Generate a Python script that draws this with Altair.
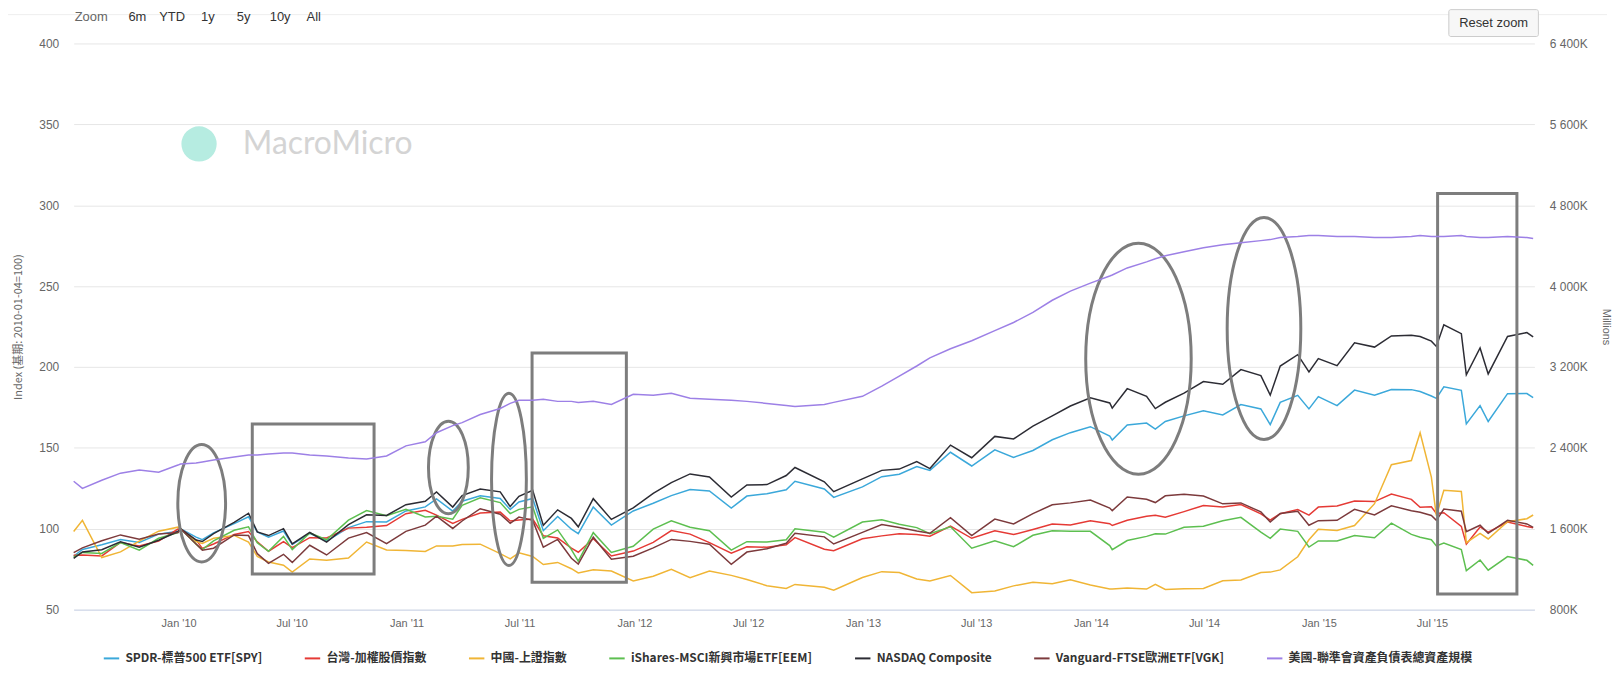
import altair as alt
import pandas as pd

# ---------------- data ----------------
dates = [
    "2009-07-17", "2009-07-31", "2009-08-31", "2009-09-30", "2009-10-30", "2009-11-30", "2009-12-31",
    "2010-01-04", "2010-01-29", "2010-02-08", "2010-02-26", "2010-03-31", "2010-04-23", "2010-05-07", "2010-05-25",
    "2010-06-18", "2010-07-02", "2010-07-30", "2010-08-26", "2010-09-30", "2010-10-29", "2010-11-30", "2010-12-31",
    "2011-01-31", "2011-02-18", "2011-03-16", "2011-03-31", "2011-04-29", "2011-05-31", "2011-06-16", "2011-06-30",
    "2011-07-22", "2011-08-08", "2011-08-31", "2011-09-22", "2011-10-03", "2011-10-27", "2011-11-25", "2011-12-30",
    "2012-01-31", "2012-02-29", "2012-03-30", "2012-04-30", "2012-06-04", "2012-06-29", "2012-07-31", "2012-08-31",
    "2012-09-14", "2012-10-31", "2012-11-15", "2012-12-31",
    "2013-01-31", "2013-02-28", "2013-03-28", "2013-04-18", "2013-05-21", "2013-06-24", "2013-07-31", "2013-08-30",
    "2013-09-30", "2013-10-31", "2013-11-29", "2013-12-31",
    "2014-01-31", "2014-02-04", "2014-02-28", "2014-03-31", "2014-04-14", "2014-04-30", "2014-05-30", "2014-06-30",
    "2014-07-31", "2014-08-29", "2014-09-30", "2014-10-15", "2014-10-31", "2014-11-28", "2014-12-16", "2014-12-31",
    "2015-01-30", "2015-02-27", "2015-03-31", "2015-04-27", "2015-05-29", "2015-06-12", "2015-06-30", "2015-07-08",
    "2015-07-20", "2015-08-17", "2015-08-25", "2015-09-16", "2015-09-29", "2015-10-30", "2015-11-30", "2015-12-10",
]

spy = [
    83.0, 87.2, 90.1, 93.3, 91.5, 96.7, 98.4,
    100.0, 94.8, 93.3, 97.5, 103.2, 107.4, 98.1, 94.8, 98.6, 90.3, 97.2, 92.4, 100.7, 104.4, 104.2, 111.0,
    113.5, 118.5, 110.9, 117.0, 120.4, 118.7, 111.9, 116.6, 118.7, 98.8, 107.6, 99.7, 97.0, 113.4, 102.3, 111.0,
    115.8, 120.5, 124.3, 123.4, 112.8, 120.2, 121.7, 124.1, 129.4, 124.6, 119.4, 125.9,
    132.2, 133.7, 138.5, 136.1, 147.3, 138.8, 148.8, 144.1, 148.4, 155.0, 159.4, 163.1,
    157.3, 154.9, 164.1, 165.3, 161.6, 166.3, 169.8, 173.0, 170.4, 176.8, 174.1, 164.4, 178.1, 182.5, 174.1, 181.7,
    176.1, 185.7, 182.5, 186.1, 186.0, 184.8, 182.1, 180.6, 187.8, 185.6, 164.8, 176.1, 166.3, 183.5, 183.6, 181.1,
]

taiex = [
    83.7, 83.8, 83.2, 91.5, 89.4, 92.4, 99.8,
    100.0, 93.1, 87.9, 90.6, 96.5, 98.3, 91.9, 86.1, 92.1, 88.3, 94.5, 94.3, 100.4, 101.0, 102.0, 109.3,
    111.4, 108.4, 103.3, 105.8, 109.7, 110.3, 104.8, 105.4, 106.0, 95.7, 94.3, 88.0, 85.5, 93.8, 83.2, 86.2,
    91.6, 98.9, 96.7, 91.4, 84.9, 88.9, 88.6, 90.1, 94.5, 87.3, 86.4, 93.8,
    95.6, 96.9, 96.5, 95.4, 101.7, 94.1, 98.8, 96.4, 99.6, 103.0, 102.4, 104.9,
    103.1, 102.0, 105.3, 107.8, 108.4, 107.1, 110.6, 114.4, 113.5, 115.0, 109.2, 105.4, 109.3, 111.9, 108.4, 113.4,
    114.1, 117.2, 116.8, 121.5, 118.2, 113.3, 113.6, 109.4, 109.9, 101.5, 90.5, 101.1, 97.9, 104.2, 101.4, 100.6,
]

sse = [
    98.3, 105.2, 82.2, 85.7, 92.4, 98.5, 101.0,
    100.0, 92.1, 90.9, 94.1, 95.9, 91.8, 82.9, 79.5, 77.5, 73.2, 81.3, 80.5, 81.9, 91.8, 86.9, 86.6,
    86.0, 89.4, 89.3, 90.3, 90.5, 84.6, 81.4, 85.1, 82.9, 77.9, 79.2, 75.3, 72.7, 74.6, 73.9, 67.8,
    70.7, 74.9, 69.8, 73.9, 71.2, 68.6, 64.8, 63.1, 65.6, 63.8, 62.0, 69.9,
    73.5, 72.9, 69.0, 67.7, 71.1, 60.5, 61.5, 64.7, 67.0, 66.0, 68.4, 65.2,
    62.7, 62.7, 63.4, 62.7, 65.7, 62.5, 62.9, 63.1, 67.9, 68.3, 72.9, 73.2, 74.6, 82.7, 93.2, 99.7,
    99.0, 102.0, 115.5, 139.6, 142.2, 159.3, 131.9, 108.1, 123.8, 123.1, 91.4, 97.2, 93.7, 104.3, 106.2, 108.5,
]

eem = [
    82.4, 85.4, 84.7, 91.5, 86.8, 94.1, 97.6,
    100.0, 90.5, 87.1, 92.5, 99.1, 101.2, 91.3, 86.1, 95.3, 87.1, 97.4, 93.2, 105.3, 111.2, 108.0, 112.1,
    107.3, 107.8, 105.9, 114.5, 119.1, 116.2, 109.4, 112.0, 113.6, 94.1, 99.3, 87.1, 80.0, 97.6, 85.4, 89.2,
    99.8, 104.9, 100.9, 98.8, 86.8, 92.0, 91.8, 93.2, 100.0, 97.9, 94.8, 104.2,
    105.6, 102.8, 100.7, 96.9, 101.2, 88.0, 92.5, 88.9, 96.0, 98.8, 98.4, 98.4,
    89.6, 87.1, 92.7, 95.3, 96.9, 96.7, 100.9, 101.6, 104.9, 107.1, 97.9, 94.1, 99.8, 98.4, 88.7, 92.5,
    92.5, 95.8, 94.4, 103.5, 96.5, 94.8, 93.2, 89.4, 91.1, 87.1, 74.1, 80.7, 74.4, 82.8, 80.5, 77.4,
]

nasdaq = [
    81.7, 85.7, 87.0, 91.9, 88.6, 92.9, 98.3,
    100.0, 93.0, 92.1, 97.0, 103.9, 109.6, 98.1, 95.8, 100.1, 90.6, 97.7, 91.8, 102.6, 108.6, 108.2, 114.9,
    117.0, 122.8, 113.4, 120.5, 124.5, 122.8, 113.7, 120.1, 123.8, 102.1, 111.7, 106.4, 101.2, 118.6, 105.8, 112.9,
    121.9, 128.5, 133.9, 132.0, 119.6, 127.1, 127.3, 132.9, 137.9, 129.0, 122.9, 130.8,
    136.1, 136.9, 141.5, 137.2, 151.7, 143.9, 157.1, 155.5, 163.4, 169.8, 175.9, 180.9,
    177.8, 174.6, 186.6, 181.9, 174.3, 178.2, 183.8, 191.0, 189.3, 198.4, 194.7, 182.6, 200.6, 207.6, 197.0, 205.2,
    200.8, 215.0, 212.3, 219.2, 219.6, 218.8, 216.0, 212.7, 226.1, 220.6, 195.2, 211.8, 195.7, 218.9, 221.3, 218.6,
]

vgk = [
    85.2, 88.2, 92.6, 96.2, 93.6, 96.8, 97.6,
    100.0, 90.6, 86.8, 88.0, 96.2, 95.8, 84.6, 78.6, 84.2, 79.2, 89.8, 83.8, 94.2, 97.6, 90.8, 98.4,
    102.2, 107.8, 100.2, 104.8, 112.4, 109.0, 103.4, 107.2, 105.2, 88.6, 93.4, 81.8, 78.2, 94.8, 81.2, 83.0,
    88.2, 93.4, 92.2, 90.4, 78.0, 85.6, 87.6, 91.0, 97.2, 95.0, 90.6, 97.8,
    102.6, 100.8, 98.6, 97.2, 106.8, 95.8, 106.0, 103.0, 109.4, 114.8, 116.0, 117.8,
    112.8, 111.2, 119.6, 118.2, 116.2, 120.4, 121.4, 120.2, 115.4, 116.0, 110.4, 104.2, 109.4, 110.8, 102.2, 105.0,
    105.2, 112.0, 108.6, 114.2, 111.2, 110.2, 108.2, 105.2, 112.2, 110.8, 98.2, 102.2, 97.2, 105.2, 103.0, 100.8,
]

# Fed total assets, millions of USD (right axis)
fed = [
    2070000, 2000000, 2080000, 2150000, 2180000, 2160000, 2230000,
    2240000, 2250000, 2260000, 2280000, 2310000, 2330000, 2330000, 2340000, 2350000, 2350000, 2330000, 2320000,
    2300000, 2290000, 2320000, 2420000,
    2460000, 2550000, 2620000, 2650000, 2730000, 2790000, 2840000, 2870000, 2870000, 2880000, 2860000, 2860000,
    2850000, 2860000, 2830000, 2930000,
    2920000, 2940000, 2890000, 2880000, 2870000, 2860000, 2840000, 2820000, 2810000, 2830000, 2850000, 2910000,
    3010000, 3110000, 3210000, 3290000, 3380000, 3460000, 3560000, 3640000, 3740000, 3860000, 3950000, 4030000,
    4100000, 4110000, 4180000, 4240000, 4270000, 4300000, 4340000, 4380000, 4410000, 4430000, 4450000, 4460000,
    4480000, 4490000, 4500000, 4500000,
    4490000, 4490000, 4480000, 4480000, 4490000, 4500000, 4490000, 4490000, 4490000, 4500000, 4490000, 4480000,
    4480000, 4490000, 4480000, 4470000,
]

series_names = [
    "SPDR-標普500 ETF[SPY]",
    "台灣-加權股價指數",
    "中國-上證指數",
    "iShares-MSCI新興市場ETF[EEM]",
    "NASDAQ Composite",
    "Vanguard-FTSE歐洲ETF[VGK]",
    "美國-聯準會資產負債表總資產規模",
]

left_ticks = [50, 100, 150, 200, 250, 300, 350, 400]
right_ticks = [800000, 1600000, 2400000, 3200000, 4000000, 4800000, 5600000, 6400000]

# hand-drawn annotations (data coordinates)
ellipse_ids = ["A", "B", "C", "D", "E"]
ellipse_dates = ["2010-02-07", "2011-03-09", "2011-06-14", "2014-03-18", "2014-10-05"]
ellipse_values = [115.8, 137.9, 130.5, 205.1, 223.8]

rect_start = ["2010-04-29", "2011-07-21", "2015-07-10"]
rect_end = ["2010-11-10", "2011-12-19", "2015-11-14"]
rect_top = [164.8, 208.6, 307.3]
rect_bottom = [72.0, 66.9, 59.7]

# ---------------- styles ----------------
COLORS = ["#3ba8da", "#e53a35", "#f0b535", "#5dbf50", "#2c2c34", "#7c3a3c", "#9d80e6"]
ANN = "#7d7d7d"
FONT = "Liberation Sans, Noto Sans CJK TC"
CJK = "Noto Sans CJK TC, Liberation Sans"
W, H = 1468, 569

# ellipse radii in pixels (rx, ry), drawn as custom symbols scaled to a 240px box
ELLIPSE_RADII = {"A": (24, 59), "B": (20, 46.5), "C": (17.5, 86.5), "D": (53, 116), "E": (37, 111.5)}
UNIT = 120.0
K = 0.5523


def ellipse_path(rx, ry):
    a, b = rx / UNIT, ry / UNIT
    ka, kb = K * a, K * b
    return (f"M {-a:.4f} 0 C {-a:.4f} {-kb:.4f} {-ka:.4f} {-b:.4f} 0 {-b:.4f} "
            f"C {ka:.4f} {-b:.4f} {a:.4f} {-kb:.4f} {a:.4f} 0 "
            f"C {a:.4f} {kb:.4f} {ka:.4f} {b:.4f} 0 {b:.4f} "
            f"C {-ka:.4f} {b:.4f} {-a:.4f} {kb:.4f} {-a:.4f} 0 Z")


ellipse_paths = [ellipse_path(*ELLIPSE_RADII[i]) for i in ellipse_ids]

# ---------------- tables ----------------
index_cols = [spy, taiex, sse, eem, nasdaq, vgk]
index_df = pd.concat(
    [pd.DataFrame({"date": dates, "value": vals, "series": name})
     for name, vals in zip(series_names[:6], index_cols)],
    ignore_index=True,
)
fed_df = pd.DataFrame({"date": dates, "fed": fed, "series": series_names[6]})
ell_df = pd.DataFrame({"id": ellipse_ids, "date": ellipse_dates, "value": ellipse_values})
rect_df = pd.DataFrame({"x1": rect_start, "x2": rect_end, "y1": rect_top, "y2": rect_bottom})
one = pd.DataFrame({"a": [0]})

# ---------------- scales & axes ----------------
x_scale = alt.Scale(type="utc", domain=[alt.DateTime(year=2009, month=7, date=17, utc=True),
                                        alt.DateTime(year=2015, month=12, date=12, utc=True)])
x_axis = alt.Axis(
    values=[alt.DateTime(year=y, month=m, date=1, utc=True) for y in range(2010, 2016) for m in (1, 7)],
    labelExpr="utcFormat(datum.value, \"%b '%y\")",
    title=None, grid=False, ticks=False, domain=True, domainColor="#ccd6eb",
    labelPadding=8, labelFontSize=11, labelColor="#666666", labelFont=FONT,
)
y_scale = alt.Scale(domain=[50, 400], nice=False, zero=False)
y_axis = alt.Axis(
    orient="left", values=left_ticks, title="Index (基期: 2010-01-04=100)",
    grid=True, gridColor="#e6e6e6", domain=False, ticks=False,
    labelPadding=15, labelFontSize=12, labelColor="#666666", labelFont=FONT,
    titleFontSize=11, titleFontWeight="normal", titleColor="#666666", titleFont=CJK,
    titleX=-55, titleBaseline="middle",
)
r_scale = alt.Scale(domain=[800000, 6400000], nice=False, zero=False)
r_axis = alt.Axis(
    orient="right", values=right_ticks, title="Millions",
    labelExpr="replace(format(datum.value / 1000, ','), ',', ' ') + 'K'",
    grid=False, domain=False, ticks=False,
    labelPadding=15, labelFontSize=12, labelColor="#666666", labelFont=FONT,
    titleFontSize=11, titleFontWeight="normal", titleColor="#666666", titleFont=FONT,
    titleX=71, titleBaseline="middle",
)
color = alt.Color(
    "series:N",
    scale=alt.Scale(domain=series_names, range=COLORS),
    legend=alt.Legend(
        orient="none", legendX=29, legendY=609, direction="horizontal", columns=7, title=None,
        symbolType="stroke", symbolStrokeWidth=2, symbolSize=240,
        labelFontSize=12, labelFontWeight="bold", labelColor="#333333", labelFont=CJK,
        labelLimit=400, columnPadding=38, labelOffset=5,
    ),
)

X = alt.X("date:T", scale=x_scale, axis=x_axis)
Y = alt.Y("value:Q", scale=y_scale, axis=y_axis)

# ---------------- layers ----------------
watermark_logo = alt.Chart(one).mark_point(
    shape="circle", filled=True, size=1257, color="#b6ece1", opacity=1
).encode(x=alt.value(126), y=alt.value(101))
watermark_text = alt.Chart(one).mark_text(
    text="MacroMicro", align="left", baseline="middle", fontSize=32, font="Lato", color="#d4d4d4"
).encode(x=alt.value(170), y=alt.value(101))

lines = alt.Chart(index_df).mark_line(strokeWidth=1.5).encode(x=X, y=Y, color=color)

rects = alt.Chart(rect_df).mark_rect(fillOpacity=0, stroke=ANN, strokeWidth=3).encode(
    x=alt.X("x1:T", scale=x_scale, axis=x_axis), x2="x2:T",
    y=alt.Y("y1:Q", scale=y_scale, axis=y_axis), y2="y2:Q",
)
ellipses = alt.Chart(ell_df).mark_point(
    filled=False, stroke=ANN, strokeWidth=3, opacity=1, size=57600
).encode(
    x=X, y=Y,
    shape=alt.Shape("id:N", scale=alt.Scale(domain=ellipse_ids, range=ellipse_paths), legend=None),
)

top_rule = alt.Chart(one).mark_rule(color="#eeeeee", strokeWidth=1).encode(
    x=alt.value(-66), x2=alt.value(1541), y=alt.value(-29)
)


def tool_text(label, xpos, col="#333333"):
    return alt.Chart(one).mark_text(
        text=label, align="left", baseline="middle", fontSize=13, font=FONT, color=col
    ).encode(x=alt.value(xpos), y=alt.value(-27))


toolbar = [
    tool_text("Zoom", 1, "#666666"), tool_text("6m", 55), tool_text("YTD", 86), tool_text("1y", 128),
    tool_text("5y", 164), tool_text("10y", 197), tool_text("All", 234),
]
button = alt.Chart(one).mark_rect(fill="#f7f7f7", stroke="#cccccc", strokeWidth=1, cornerRadius=2).encode(
    x=alt.value(1382), x2=alt.value(1472), y=alt.value(-34), y2=alt.value(-7)
)
button_text = alt.Chart(one).mark_text(
    text="Reset zoom", align="center", baseline="middle", fontSize=13, font=FONT, color="#333333"
).encode(x=alt.value(1427), y=alt.value(-21))

left = alt.layer(watermark_logo, watermark_text, lines, rects, ellipses, top_rule, *toolbar, button, button_text)

fed_line = alt.Chart(fed_df).mark_line(strokeWidth=1.5).encode(
    x=X, y=alt.Y("fed:Q", scale=r_scale, axis=r_axis), color=color
)

chart = (
    alt.layer(left, fed_line)
    .resolve_scale(y="independent")
    .properties(
        width=W, height=H,
        autosize=alt.AutoSizeParams(type="none"),
        padding={"left": 66, "top": 34, "right": 81, "bottom": 57},
        background="white",
    )
    .configure_view(stroke=None)
)

chart.save("out.html", embed_options={"renderer": "svg", "actions": False})
